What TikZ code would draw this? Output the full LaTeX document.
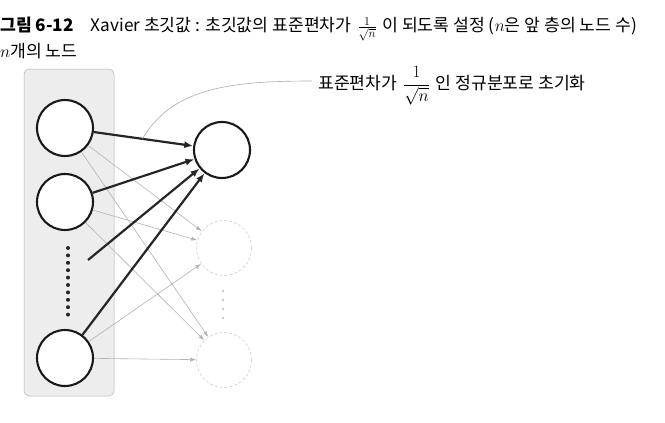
\documentclass[tikz,border=0pt]{standalone}
\usepackage{fontspec}
\setmainfont{Noto Sans CJK KR}
\usetikzlibrary{arrows.meta}
\begin{document}
\begin{tikzpicture}[x=1pt,y=-1pt,
  nodecirc/.style={circle,draw=black!90,line width=2.1pt,minimum size=56pt,inner sep=0pt,fill=white},
  fadecirc/.style={circle,draw=gray!45,densely dashed,line width=0.5pt,minimum size=55pt,inner sep=0pt},
  thickarrow/.style={black!85,line width=2.2pt,-{Latex[length=9pt,width=7pt]}},
  thinarrow/.style={gray!60,line width=0.6pt,-{Latex[length=6pt,width=4pt]}},
  bigdot/.style={circle,fill=black!85,inner sep=0pt,minimum size=4pt},
  smalldot/.style={circle,fill=gray!45,inner sep=0pt,minimum size=2.8pt},
  txt/.style={inner sep=0pt,font=\fontsize{17.2}{20}\selectfont}
]
\useasboundingbox (0,0) rectangle (665,423);
% title
\node[txt,anchor=west] (title) at (0,29) {\textbf{그림 6-12}\quad Xavier 초깃값 : 초깃값의 표준편차가\,\,$\frac{1}{\sqrt{n}}$\,\,이 되도록 설정 ($n$은 앞 층의 노드 수)};
\node[txt,anchor=west] (nlabel) at (0,51) {{\fontsize{19}{20}\selectfont$n$}개의 노드};
% grey box
\node[draw=gray!60,fill=gray!14,rounded corners=5pt,line width=0.5pt,minimum width=90pt,minimum height=327pt,inner sep=0pt] (box) at (69,232.5) {};
% left nodes
\node[nodecirc] (L1) at (65,128) {};
\node[nodecirc] (L2) at (65,202) {};
\node[nodecirc] (L3) at (65,358) {};
\foreach \i in {0,...,9} {
  \node[bigdot] (d\i) at (68,{248+\i*7.4}) {};
}
\coordinate (ds) at (88,260);
% right nodes
\node[nodecirc] (R1) at (222,150) {};
\node[fadecirc] (R2) at (224,248) {};
\node[fadecirc] (R3) at (224,360) {};
\foreach \i in {0,...,3} {
  \node[smalldot] (s\i) at (223,{291+\i*9}) {};
}
% thin arrows
\draw[thinarrow] (L1) -- (R2);
\draw[thinarrow] (L1) -- (R3);
\draw[thinarrow] (L2) -- (R2);
\draw[thinarrow] (L2) -- (R3);
\draw[thinarrow] (L3) -- (R2);
\draw[thinarrow] (L3) -- (R3);
% thick arrows
\draw[thickarrow] (L1) -- coordinate[pos=0.49] (cv) (R1);
\draw[thickarrow] (L2) -- (R1);
\draw[thickarrow] (ds) -- (R1);
\draw[thickarrow] (L3) -- (R1);
% annotation
\node[txt,anchor=west] (ann) at (318,86) {표준편차가\,\,$\displaystyle\frac{1}{\sqrt{n}}$\,\,인 정규분포로 초기화};
\coordinate (ce) at (312,81);
\draw[gray!65,line width=0.6pt] (cv) .. controls (172,88) and (230,81) .. (ce);
\end{tikzpicture}
\end{document}
